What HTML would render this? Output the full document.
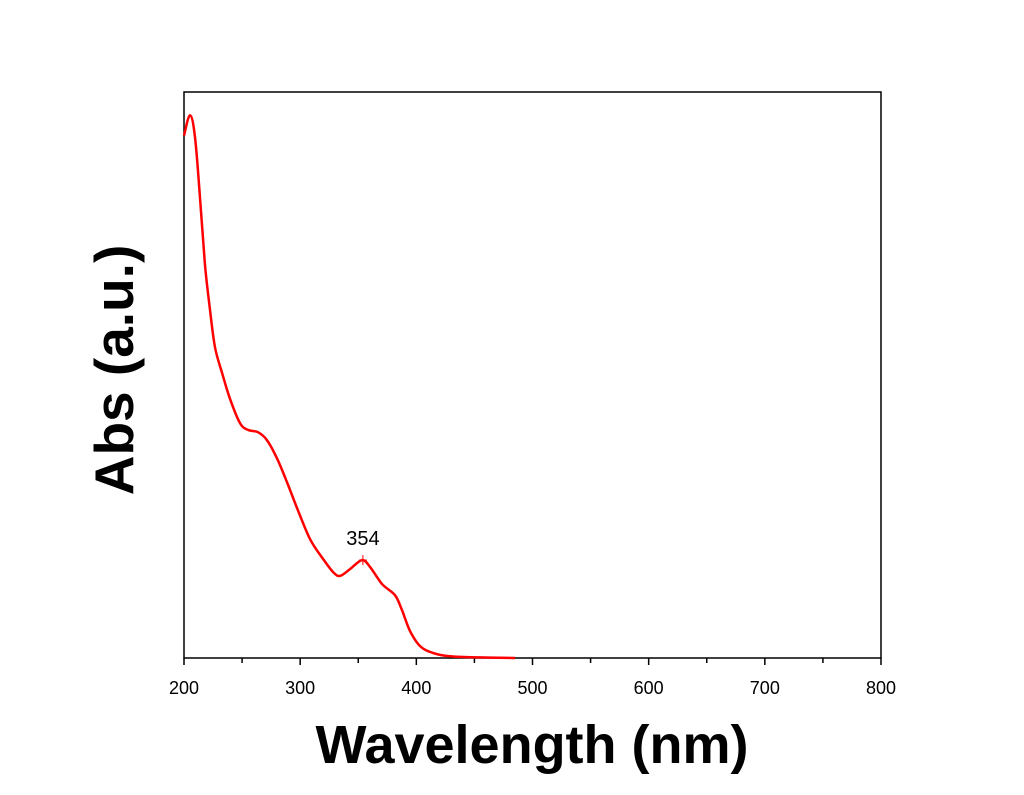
<!DOCTYPE html>
<html><head><meta charset="utf-8"><style>
body{margin:0;background:#fff;width:1024px;height:790px;overflow:hidden}
svg text{font-family:"Liberation Sans",Arial,sans-serif}
</style></head><body>
<svg id="chart" width="1024" height="790" xmlns="http://www.w3.org/2000/svg">
<rect x="0" y="0" width="1024" height="790" fill="#fff"/>
<g id="g"></g>
<text x="532" y="763" font-size="54" font-weight="bold" text-anchor="middle">Wavelength (nm)</text>
<text transform="translate(133,370) rotate(-90)" font-size="55" font-weight="bold" text-anchor="middle">Abs (a.u.)</text>
</svg>
<script>
const wavelengths=[200,205.2,209.5,213.8,218.1,222.4,226.7,232.7,239.6,248.2,255.1,263.7,271.4,280,288.6,297.3,308.5,319.7,328.3,334.3,342.9,353.2,360.1,370.4,381.6,387.6,394.5,403.2,414.3,429,455,485];
const absValues=[92.3,95.9,92.0,81.3,69.4,61.5,54.9,50.4,45.8,41.5,40.3,39.9,38.5,35.3,31.1,26.5,21.0,17.5,15.2,14.5,15.7,17.3,16.1,13.1,11.1,8.5,4.8,2.1,0.9,0.3,0.1,0];
const xTicks=[200,300,400,500,600,700,800];
const peakWl=354, peakAbs=17.3, peakLabel="354";
const X0=184,X1=881,Y0=658,Y1=92;
const xs=v=>X0+(v-200)/600*(X1-X0);
const ys=v=>Y0-v/100*(Y0-Y1);
const NS="http://www.w3.org/2000/svg";
const g=document.getElementById('g');
function mk(t,a){const e=document.createElementNS(NS,t);for(const k in a)e.setAttribute(k,a[k]);g.appendChild(e);return e;}
const fr=mk('rect',{x:X0,y:Y1,width:X1-X0,height:Y0-Y1,fill:'none',stroke:'#000','stroke-width':1.5});


for(let v=200;v<=800;v+=50){
 const major=xTicks.includes(v);
 const t=mk('line',{x1:xs(v),x2:xs(v),y1:Y0,y2:Y0+(major?7:5),stroke:'#000','stroke-width':1.5});
 
 
}
xTicks.forEach(v=>{
 const t=mk('text',{x:xs(v),y:694,'font-size':18,'text-anchor':'middle'});
 t.textContent=v;
 
 
});
const pts=wavelengths.map((w,i)=>[xs(w),ys(absValues[i])]);
let d='M'+pts[0][0].toFixed(1)+','+pts[0][1].toFixed(1);
for(let i=0;i<pts.length-1;i++){
 const p0=pts[Math.max(0,i-1)],p1=pts[i],p2=pts[i+1],p3=pts[Math.min(pts.length-1,i+2)];
 const c1x=p1[0]+(p2[0]-p0[0])/6,c1y=p1[1]+(p2[1]-p0[1])/6;
 const c2x=p2[0]-(p3[0]-p1[0])/6,c2y=p2[1]-(p3[1]-p1[1])/6;
 d+='C'+c1x.toFixed(1)+','+c1y.toFixed(1)+' '+c2x.toFixed(1)+','+c2y.toFixed(1)+' '+p2[0].toFixed(1)+','+p2[1].toFixed(1);
}
const p=mk('path',{d:d,fill:'none',stroke:'#f00','stroke-width':2.5,'stroke-linejoin':'round'});


const px=xs(peakWl),py=ys(peakAbs);
const c1=mk('line',{x1:px-4,x2:px+4,y1:py,y2:py,stroke:'#f00','stroke-width':1});


const c2=mk('line',{x1:px,x2:px,y1:py-5,y2:py+5,stroke:'#f00','stroke-width':1});


const lb=mk('text',{x:px,y:py-15,'font-size':20,'text-anchor':'middle'});
lb.textContent=peakLabel;


</script>
</body></html>
